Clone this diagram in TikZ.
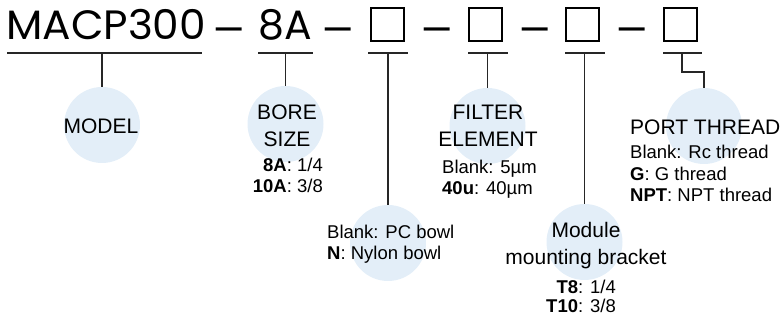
\documentclass[tikz,border=0pt]{standalone}
\usepackage{fontspec}
\setmainfont{Liberation Sans}
\newfontfamily\codefont{Poppins}
\usetikzlibrary{positioning}
\definecolor{bubblefill}{RGB}{227,238,248}

\begin{document}
\begin{tikzpicture}[x=1pt,y=-1pt,
	bubble/.style={circle,fill=bubblefill,minimum size=76pt,inner sep=0pt},
	head/.style={font=\fontsize{21}{27}\selectfont,inner sep=0pt},
	opts/.style={font=\fontsize{18.5}{21.5}\selectfont,inner sep=0pt},
	code/.style={font=\codefont\fontsize{41}{41}\selectfont,inner sep=0pt},
	sep/.style={code,anchor=base,xscale=1.2},
	blank/.style={draw,line width=2.2pt,minimum size=33pt,inner sep=0pt},
	link/.style={line width=1.2pt,draw=black!85}]
			\useasboundingbox (0,0) rectangle (782,320);
			% part number
			\node[code,anchor=base west,xscale=1.03] (model_code) at (6,40) {MACP300};
			\node[sep] (dash_1) at (229,45) {–};
			\node[code,anchor=base] (bore_code) at (285.5,40) {8A};
			\node[sep] (dash_2) at (338.5,45) {–};
			\node[blank] (box_1) at (387.5,24.5) {};
			\node[sep] (dash_3) at (437.5,45) {–};
			\node[blank] (box_2) at (485.5,24.5) {};
			\node[sep] (dash_4) at (535,45) {–};
			\node[blank] (box_3) at (582.5,24.5) {};
			\node[sep] (dash_5) at (632.5,45) {–};
			\node[blank] (box_4) at (680.5,24.5) {};
			% underlines
			\coordinate (u_1) at (102,53);
			\coordinate (u_2) at (285.5,53);
			\coordinate (u_3) at (388,53);
			\coordinate (u_4) at (487.5,53);
			\coordinate (u_5) at (584.5,53);
			\coordinate (u_6) at (682,53);
			\coordinate (bend_6) at (704,72);
			\draw[link] (7,53) -- (202,53);
			\draw[link] (258,53) -- (313,53);
			\draw[link] (368,53) -- (408,53);
			\draw[link] (468,53) -- (508,53);
			\draw[link] (565,53) -- (605,53);
			\draw[link] (663,53) -- (702,53);
			% bubbles
			\node[bubble] (c_model) at (102,125) {};
			\node[bubble] (c_bore) at (285.5,124) {};
			\node[bubble] (c_bowl) at (388,243) {};
			\node[bubble] (c_filter) at (487.5,126) {};
			\node[bubble] (c_bracket) at (584.5,242) {};
			\node[bubble] (c_port) at (704,126) {};
			\path[link]
				(u_1) edge (c_model)
				(u_2) edge (c_bore)
				(u_3) edge (c_bowl)
				(u_4) edge (c_filter)
				(u_5) edge (c_bracket);
			\draw[link] (u_6) |- (bend_6) -- (c_port);
			% labels (base = last line)
			\node[head,anchor=base] (t_model) at (101,134) {MODEL};
			\node[head,anchor=base,align=center] (t_bore) at (287,147) {BORE\\SIZE};
			\node[opts,anchor=base east,align=right] (o_bore) at (323,193) {\textbf{8A}: 1/4\\\textbf{10A}: 3/8};
			\node[head,anchor=base,align=center] (t_filter) at (488,147) {FILTER\\ELEMENT};
			\node[opts,anchor=base west,align=left] (o_filter) at (442,195) {Blank: 5µm\\\textbf{40u}: 40µm};
			\node[opts,anchor=base west,align=left] (o_bowl) at (327,260) {Blank: PC bowl\\\textbf{N}: Nylon bowl};
			\node[head,anchor=base,align=center] (t_bracket) at (586,265) {Module\\mounting bracket};
			\node[opts,anchor=base east,align=right,font=\fontsize{18.5}{20}\selectfont] (o_bracket) at (616,313) {\textbf{T8}: 1/4\\\textbf{T10}: 3/8};
			\node[head,anchor=base west] (t_port) at (630,135) {PORT THREAD};
			\node[opts,anchor=base west,align=left] (o_port) at (630,202) {Blank: Rc thread\\\textbf{G}: G thread\\\textbf{NPT}: NPT thread};
		\end{tikzpicture}
\end{document}
